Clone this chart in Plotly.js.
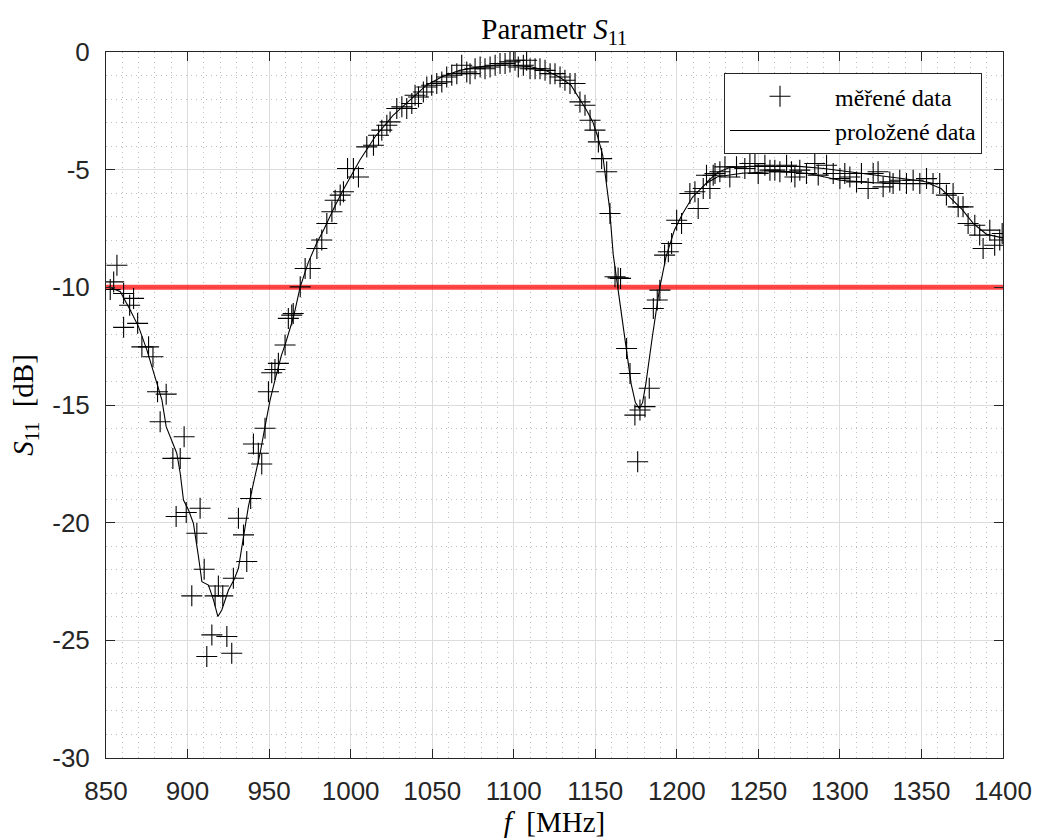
<!DOCTYPE html>
<html>
<head>
<meta charset="utf-8">
<script src="https://cdn.plot.ly/plotly-3.0.1.min.js"></script>
<style>html,body{margin:0;padding:0;background:#fff;}</style>
</head>
<body>
<div id="chart" style="width:1037px;height:839px;"></div>
<script>
// measured data (f in MHz, S11 in dB)
const measF = [852.6,854.7,856.7,860.8,860.8,864.5,866.9,869.4,872.0,876.1,878.8,881.6,883.2,886.9,891.0,893.0,895.5,897.9,899.2,902.6,905.7,907.7,910.2,911.8,914.9,916.9,918.9,921.6,924.1,927.1,928.1,931.2,934.3,936.3,938.7,940.4,943.4,945.5,947.5,949.6,951.6,953.6,955.7,
959.8,961.8,963.9,964.8,969.1,972.1,975.2,979.3,982.3,985.4,988.5,990.5,993.6,995.6,998.1,1001.7,1004.8,1009.9,1014.0,1017.1,1019.1,1022.2,1024.2,1028.3,1031.4,1034.4,1037.5,1039.5,1041.6,1044.6,1046.7,1049.7,1052.8,1055.9,1058.9,1062.0,1065.1,1068.1,1071.2,1073.2,1076.3,1079.4,1082.4,1085.5,1088.6,1091.6,1094.7,1097.7,1100.8,1102.8,1105.9,1107.9,1110.0,1113.1,1116.1,1119.2,1122.3,1125.3,1128.4,1131.4,1134.5,1137.6,1140.6,1143.7,1146.8,1149.8,1151.9,1153.9,1157.0,1159.0,1162.1,1164.0,1165.5,1169.2,1171.3,1174.3,1176.0,1177.4,1180.5,1183.1,1185.6,1188.0,1189.6,1192.5,1194.8,1196.8,1199.9,1202.9,1208.0,1211.1,1213.1,1216.2,1218.2,1220.3,1222.3,
1223.4,1226.4,1229.5,1232.5,1236.6,1241.7,1244.8,1247.9,1249.9,1254.0,1257.1,1260.1,1263.2,1267.3,1270.3,1272.4,1275.4,1279.5,1284.6,1286.7,1291.8,1295.9,1300.0,1303.0,1306.1,1310.2,1313.2,1317.3,1320.4,1323.4,1326.5,1330.6,1332.6,1336.7,1340.8,1344.9,1349.0,1353.1,1357.1,1361.2,1365.3,1369.4,1372.5,1375.5,1378.6,1382.7,1385.7,1387.8,1391.9,1394.9,1398.0,1399.5];
const measS = [-10.09,-9.77,-9.06,-10.26,-11.70,-10.76,-10.47,-11.53,-12.53,-12.53,-12.95,-14.44,-15.71,-14.54,-17.27,-19.74,-17.27,-16.35,-19.57,-23.11,-20.45,-19.39,-21.98,-25.69,-24.77,-23.11,-22.69,-23.11,-24.84,-25.55,-22.36,-19.81,-20.52,-21.65,-18.97,-16.66,-17.05,-17.51,-15.99,-14.44,-13.63,-13.49,-13.23,
-12.45,-11.32,-11.18,-11.11,-9.98,-9.20,-9.20,-8.35,-7.99,-7.29,-6.79,-6.30,-6.08,-5.94,-4.95,-4.95,-5.31,-4.03,-3.96,-3.54,-3.32,-3.11,-2.97,-2.40,-2.33,-2.40,-2.19,-1.84,-1.91,-1.70,-1.49,-1.41,-1.34,-1.27,-1.06,-0.99,-0.92,-0.56,-0.85,-0.92,-0.71,-0.64,-0.71,-0.64,-0.56,-0.49,-0.49,-0.42,-0.35,-0.64,-0.56,-0.35,-0.71,-0.71,-0.71,-0.78,-0.92,-0.92,-1.06,-1.20,-1.34,-1.34,-2.12,-2.26,-2.90,-3.32,-3.82,-4.53,-5.09,-6.86,-9.55,-9.60,-9.62,-12.60,-13.66,-15.43,-17.41,-15.21,-15.07,-14.29,-10.90,-10.54,-10.12,-8.63,-8.49,-8.14,-7.15,-7.29,-6.01,-5.94,-6.65,-5.80,-5.24,-5.80,-5.24,
-5.16,-5.09,-4.88,-5.31,-4.88,-4.95,-4.74,-4.74,-5.16,-4.81,-5.02,-5.02,-5.09,-4.81,-5.09,-5.31,-5.02,-5.16,-4.74,-5.23,-4.81,-5.16,-5.38,-5.16,-5.31,-5.52,-5.16,-5.80,-5.16,-5.09,-5.73,-5.52,-5.59,-5.45,-5.59,-5.45,-5.59,-5.38,-5.59,-5.59,-6.08,-6.01,-6.58,-6.58,-7.29,-7.36,-7.78,-8.35,-7.57,-8.21,-7.99,-7.71];

// fitted curve (two segments, separated by null)
const fitF = [851.6,858.8,864.9,870.0,875.1,878.2,881.6,884.3,886.9,890.4,893.4,895.5,897.5,900.6,903.6,906.7,908.8,912.8,915.9,918.6,921.0,925.1,928.5,931.2,934.2,937.3,940.4,944.5,947.5,950.6,953.6,957.5,960.0,965.0,969.0,974.0,979.0,983.5,990.0,995.5,1005.6,1015.0,1026.0,1036.0,1046.5,1056.0,1066.9,1080.0,1090.0,1099.5,1110.0,1120.0,1128.0,1135.0,1140.3,1144.5,1148.5,1151.5,1154.6,1158.7,1161.0,1163.8,1166.5,1168.9,1172.0,1174.6,1177.0,1179.0,1181.0,1185.0,1189.3,1193.4,1198.5,1203.6,1209.7,1217.9,1225.0,1240.0,1260.0,1280.0,1300.0,1320.0,1340.0,1355.0,1362.0,1367.0,1375.0,1382.0,1390.0,1400.0,
null,1218.0,1225.0,1232.0,1245.0,1260.0,1275.0,1290.0,1305.0,1320.0,1335.0,1350.0,1360.0];
const fitS = [-9.98,-10.19,-10.97,-11.68,-12.67,-13.38,-14.08,-14.79,-15.92,-16.56,-17.05,-17.90,-19.04,-19.46,-20.03,-21.44,-22.51,-22.65,-23.28,-23.99,-23.71,-22.86,-22.43,-21.94,-20.73,-19.32,-18.33,-17.05,-15.92,-14.79,-13.94,-12.90,-12.40,-11.25,-10.00,-8.95,-8.15,-7.55,-6.60,-5.85,-4.60,-3.60,-2.69,-2.05,-1.41,-1.05,-0.78,-0.62,-0.55,-0.56,-0.62,-0.80,-1.06,-1.40,-1.98,-2.45,-2.97,-3.60,-4.40,-6.60,-8.60,-10.00,-11.50,-12.70,-14.10,-14.90,-15.15,-14.90,-14.10,-12.10,-10.10,-8.70,-7.57,-6.86,-6.16,-5.59,-5.30,-5.15,-5.08,-5.15,-5.45,-5.55,-5.60,-5.60,-5.80,-6.15,-6.70,-7.30,-7.75,-7.90,
null,-5.55,-5.12,-4.92,-4.86,-4.86,-4.86,-4.95,-5.08,-5.20,-5.35,-5.48,-5.62];

// threshold line
const limF = [850, 1400];
const limS = [-10, -10];

// ticks
const xTicks = [850,900,950,1000,1050,1100,1150,1200,1250,1300,1350,1400];
const xTickText = ['850','900','950','1000','1050','1100','1150','1200','1250','1300','1350','1400'];
const yTicks = [-30,-25,-20,-15,-10,-5,0];
const yTickText = ['-30','-25','-20','-15','-10','-5','0'];

const names = ['měřené data', 'proložené data'];

const serif = '"Liberation Serif", "Times New Roman", serif';
const sans = '"Liberation Sans", Arial, sans-serif';
const axCol = '#262626';

const traces = [
  {x: limF, y: limS, mode: 'lines', line: {color: 'rgba(255,0,0,0.72)', width: 5}, showlegend: false, hoverinfo: 'skip'},
  {x: measF, y: measS, mode: 'markers', name: names[0],
   marker: {symbol: 'cross-thin-open', size: 15, color: '#000', line: {color: '#000', width: 1.1}}},
  {x: fitF, y: fitS, mode: 'lines', name: names[1], connectgaps: false,
   line: {color: '#000', width: 1.1}}
];

const axisCommon = {
  showline: true, linecolor: axCol, linewidth: 1, mirror: 'ticks',
  ticks: 'inside', ticklen: 9, tickcolor: axCol, tickwidth: 1,
  showgrid: true, gridcolor: '#dcdcdc', gridwidth: 1,
  zeroline: false,
  tickfont: {family: sans, size: 26, color: axCol},
  ticklabelstandoff: 10
};

const layout = {
  width: 1037, height: 839,
  margin: {l: 106, r: 34, t: 52, b: 81, pad: 0},
  paper_bgcolor: '#fff', plot_bgcolor: '#fff',
  title: {text: 'Parametr <i>S</i><sub>11</sub>', font: {family: serif, size: 29, color: '#000'},
          x: 0.5345, xanchor: 'center', yref: 'container', y: 0.966, yanchor: 'middle'},
  xaxis: Object.assign({}, axisCommon, {
    range: [850, 1400], tickmode: 'array', tickvals: xTicks, ticktext: xTickText,
    minor: {dtick: 10, tick0: 850, showgrid: true, gridcolor: '#bdbdbd', griddash: '1px,4px', gridwidth: 1, ticks: ''},
    title: {text: '<i>f</i>  [MHz]', font: {family: serif, size: 29, color: '#000'}, standoff: 2}
  }),
  yaxis: Object.assign({}, axisCommon, {
    range: [-30, 0], tickmode: 'array', tickvals: yTicks, ticktext: yTickText,
    minor: {dtick: 1, tick0: 0, showgrid: true, gridcolor: '#bdbdbd', griddash: '1px,4px', gridwidth: 1, ticks: ''},
    title: {text: '<i>S</i><sub>11</sub>  [dB]', font: {family: serif, size: 29, color: '#000'}, standoff: 10}
  }),
  legend: {x: 0.9766, xanchor: 'right', y: 0.970, yanchor: 'top',
           bgcolor: '#fff', bordercolor: axCol, borderwidth: 1,
           font: {family: serif, size: 24, color: '#000'}, itemwidth: 100, tracegroupgap: 0},
  showlegend: true
};

Plotly.newPlot('chart', traces, layout, {displayModeBar: false, staticPlot: true});
</script>
</body>
</html>
